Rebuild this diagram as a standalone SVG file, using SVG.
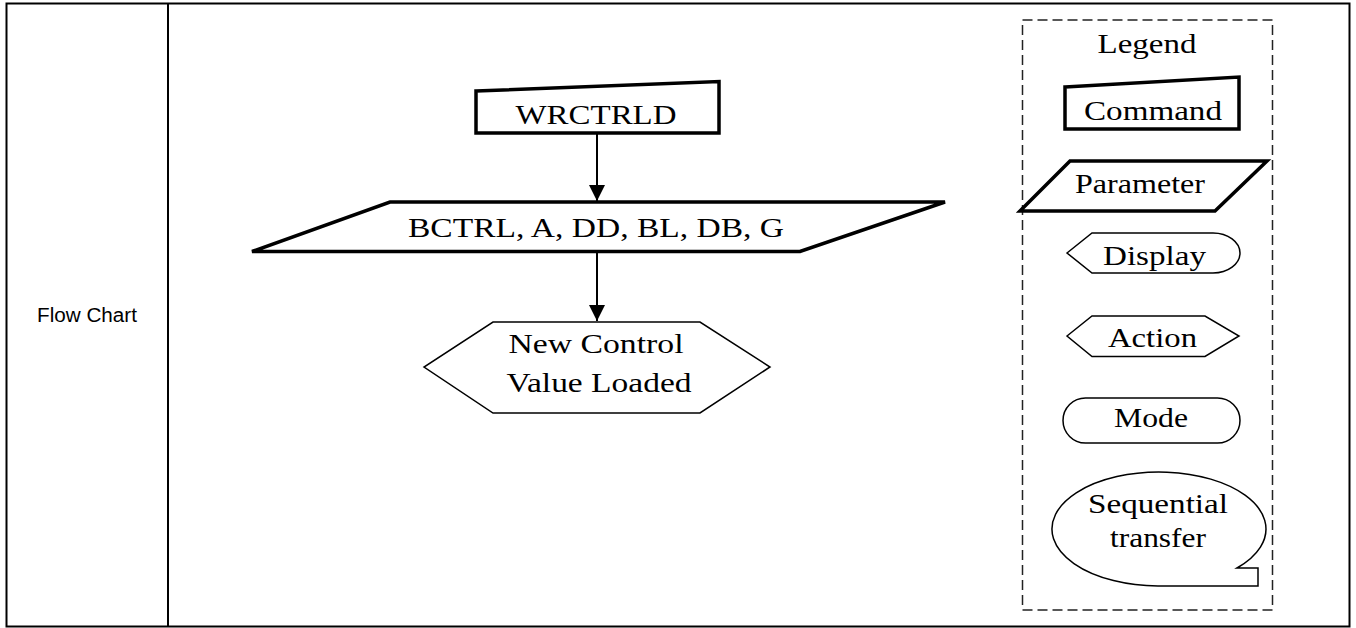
<svg xmlns="http://www.w3.org/2000/svg" width="1356" height="628" viewBox="0 0 1356 628">
  <style>
    .serif { font-family: "Liberation Serif", "Times New Roman", serif; font-size: 28px; fill: #000; text-anchor: middle; }
    .sans { font-family: "Liberation Sans", Arial, sans-serif; font-size: 19.5px; fill: #000; text-anchor: middle; }
    .thick { fill: #fff; stroke: #000; stroke-width: 3.5; stroke-linejoin: miter; }
    .thin { fill: #fff; stroke: #000; stroke-width: 1.5; stroke-linejoin: miter; }
    .conn { stroke: #000; stroke-width: 2; fill: none; }
    .frame { fill: none; stroke: #000; stroke-width: 2; }
    .legendbox { fill: none; stroke: #222; stroke-width: 1.5; stroke-dasharray: 10 5; }
  </style>
  <defs>
    <marker id="arrow" viewBox="0 0 16 18" refX="16" refY="9" markerWidth="16" markerHeight="18" markerUnits="userSpaceOnUse" orient="auto">
      <path d="M0,1 L16,9 L0,17 Z" fill="#000"/>
    </marker>
  </defs>
  <rect width="1356" height="628" fill="#fff"/>

  <g id="table">
    <rect class="frame" x="6.5" y="3.5" width="1343" height="623"/>
    <line class="frame" x1="168" y1="3.5" x2="168" y2="626.5"/>
    <text class="sans" x="87" y="322" textLength="100" lengthAdjust="spacingAndGlyphs">Flow Chart</text>
  </g>

  <g id="connectors">
    <line class="conn" x1="597" y1="133" x2="597" y2="201" marker-end="url(#arrow)"/>
    <line class="conn" x1="597" y1="253" x2="597" y2="321" marker-end="url(#arrow)"/>
  </g>

  <g id="node-wrctrld">
    <polygon class="thick" points="476,91 719,81.5 719,133 476,133"/>
    <text class="serif" x="596" y="124" textLength="161" lengthAdjust="spacingAndGlyphs">WRCTRLD</text>
  </g>

  <g id="node-params">
    <polygon class="thick" points="390,202 945,202 800,251.5 252,251.5"/>
    <text class="serif" x="596" y="237" textLength="376" lengthAdjust="spacingAndGlyphs">BCTRL, A, DD, BL, DB, G</text>
  </g>

  <g id="node-loaded">
    <polygon class="thin" points="493,322 700,322 770,367 700,413 493,413 424,367"/>
    <text class="serif" x="596" y="353" textLength="175" lengthAdjust="spacingAndGlyphs">New Control</text>
    <text class="serif" x="599" y="392" textLength="185" lengthAdjust="spacingAndGlyphs">Value Loaded</text>
  </g>

  <g id="legend">
    <rect class="legendbox" x="1022.5" y="20" width="250" height="590"/>
    <text class="serif" x="1147" y="53" textLength="99" lengthAdjust="spacingAndGlyphs">Legend</text>
  </g>

  <g id="legend-command">
    <polygon class="thick" points="1065,87 1239,77 1239,129 1065,129"/>
    <text class="serif" x="1153" y="120" textLength="138" lengthAdjust="spacingAndGlyphs">Command</text>
  </g>

  <g id="legend-parameter">
    <polygon class="thick" points="1070,161 1267,161 1215,211 1020,211"/>
    <text class="serif" x="1140" y="193" textLength="130" lengthAdjust="spacingAndGlyphs">Parameter</text>
  </g>

  <g id="legend-display">
    <path class="thin" d="M1067,253 L1092,233 L1213,233 A27,20 0 0 1 1213,273 L1092,273 Z"/>
    <text class="serif" x="1154.5" y="265" textLength="103" lengthAdjust="spacingAndGlyphs">Display</text>
  </g>

  <g id="legend-action">
    <polygon class="thin" points="1067,336 1092,316 1205,316 1239,336 1205,356.5 1092,356.5"/>
    <text class="serif" x="1152.5" y="347" textLength="89" lengthAdjust="spacingAndGlyphs">Action</text>
  </g>

  <g id="legend-mode">
    <rect class="thin" x="1063" y="398" width="177" height="45" rx="22.5" ry="22.5"/>
    <text class="serif" x="1151" y="427" textLength="74" lengthAdjust="spacingAndGlyphs">Mode</text>
  </g>

  <g id="legend-sequential">
    <path class="thin" d="M1158,586 A107,57 0 1 1 1237,568 L1258,568 L1258,586 Z"/>
    <text class="serif" x="1158" y="513" textLength="140" lengthAdjust="spacingAndGlyphs">Sequential</text>
    <text class="serif" x="1158" y="547" textLength="96" lengthAdjust="spacingAndGlyphs">transfer</text>
  </g>
</svg>
